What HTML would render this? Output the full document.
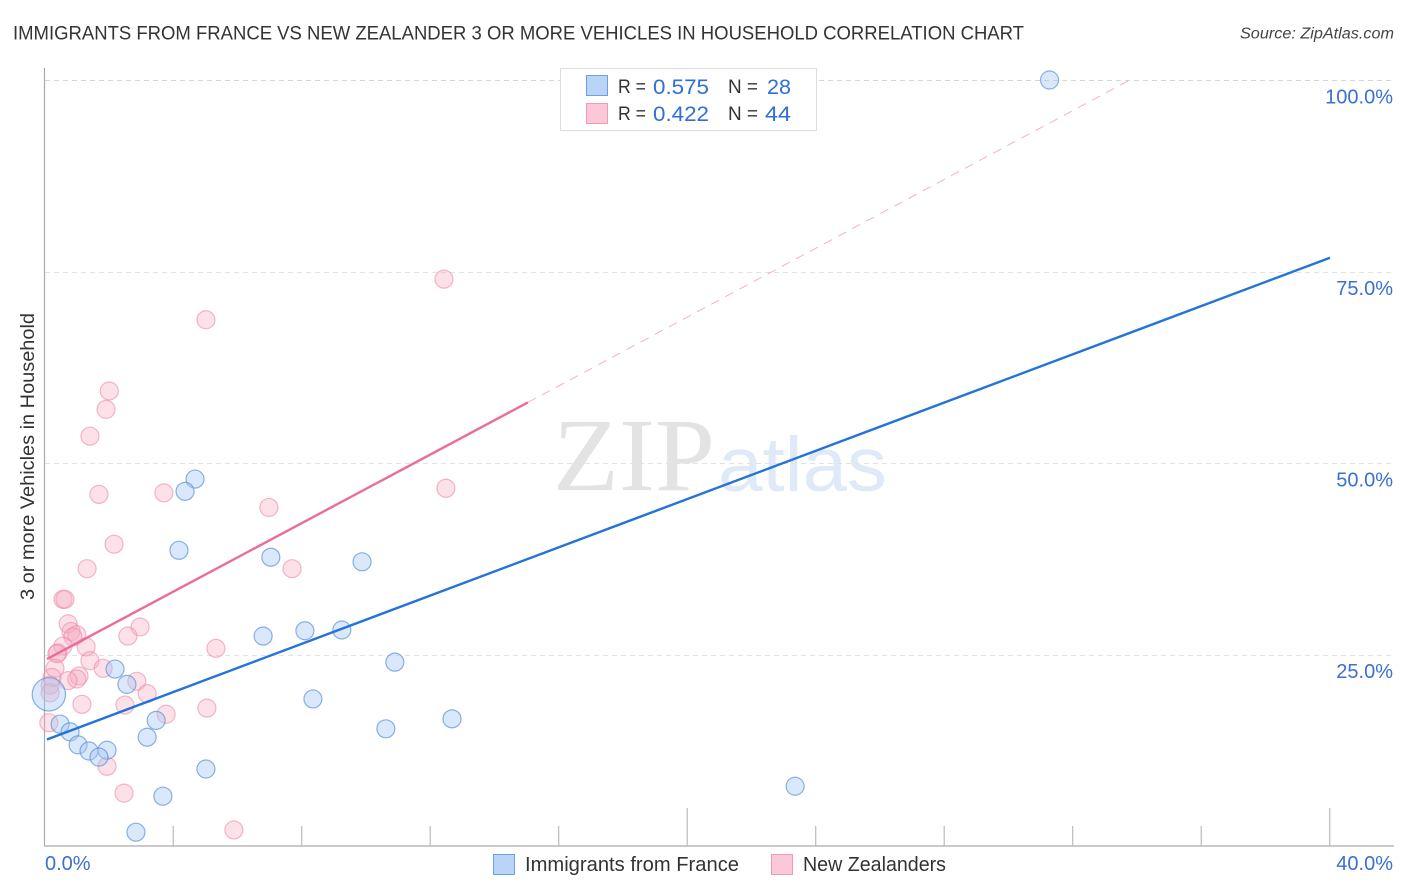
<!DOCTYPE html>
<html lang="en">
<head>
<meta charset="utf-8">
<title>Immigrants from France vs New Zealander 3 or more Vehicles in Household Correlation Chart</title>
<style>
html,body{margin:0;padding:0;background:#fff;}
body{width:1406px;height:892px;overflow:hidden;}
svg{display:block;}
text{font-family:"Liberation Sans",sans-serif;}
</style>
</head>
<body>
<svg id="chart" xmlns="http://www.w3.org/2000/svg" width="1406" height="892" viewBox="0 0 1406 892">
  <text x="13" y="39.5" font-size="19.5" fill="#333" textLength="1011" lengthAdjust="spacingAndGlyphs">IMMIGRANTS FROM FRANCE VS NEW ZEALANDER 3 OR MORE VEHICLES IN HOUSEHOLD CORRELATION CHART</text>
  <text x="1394" y="38.5" font-size="15.5" font-style="italic" fill="#444" text-anchor="end" textLength="154" lengthAdjust="spacingAndGlyphs">Source: ZipAtlas.com</text>
  <g>
    <text x="553" y="490" font-size="104" fill="#e3e3e3" textLength="162" lengthAdjust="spacingAndGlyphs" style="font-family:'Liberation Serif',serif">ZIP</text>
    <text x="718" y="491" font-size="77" fill="#dfe9f8" textLength="169" lengthAdjust="spacingAndGlyphs">atlas</text>
  </g>
  <g id="grid"></g>
  <g id="axes"></g>
  <g id="pts-pink"></g>
  <g id="pts-blue"></g>
  <g id="lines"></g>
  <text transform="translate(34,600) rotate(-90)" font-size="19.5" fill="#333" textLength="287" lengthAdjust="spacingAndGlyphs">3 or more Vehicles in Household</text>
  <g id="labels"></g>

  <g>
    <rect x="560.5" y="68.5" width="256" height="62" fill="#fff" stroke="#ddd"/>
    <rect x="586.5" y="75.5" width="21" height="20" fill="#b9d4f7" stroke="#6f9fe0"/>
    <rect x="586.5" y="103.5" width="21" height="20" fill="#fbc8d8" stroke="#f09ab6"/>
    <text x="618" y="93" font-size="19" fill="#333" textLength="28" lengthAdjust="spacingAndGlyphs">R =</text>
    <text x="653" y="94" font-size="21.5" fill="#2f6fd6" textLength="56" lengthAdjust="spacingAndGlyphs">0.575</text>
    <text x="728" y="93" font-size="19" fill="#333" textLength="30" lengthAdjust="spacingAndGlyphs">N =</text>
    <text x="767" y="94" font-size="21.5" fill="#2f6fd6" textLength="24" lengthAdjust="spacingAndGlyphs">28</text>
    <text x="618" y="120" font-size="19" fill="#333" textLength="28" lengthAdjust="spacingAndGlyphs">R =</text>
    <text x="653" y="121" font-size="21.5" fill="#2f6fd6" textLength="56" lengthAdjust="spacingAndGlyphs">0.422</text>
    <text x="728" y="120" font-size="19" fill="#333" textLength="30" lengthAdjust="spacingAndGlyphs">N =</text>
    <text x="765" y="121" font-size="21.5" fill="#2f6fd6" textLength="26" lengthAdjust="spacingAndGlyphs">44</text>
  </g>

  <g>
    <rect x="493.5" y="854.5" width="21" height="20" fill="#b9d4f7" stroke="#6f9fe0"/>
    <text x="525" y="871" font-size="20" fill="#333" textLength="214" lengthAdjust="spacingAndGlyphs">Immigrants from France</text>
    <rect x="771.5" y="854.5" width="21" height="20" fill="#fbc8d8" stroke="#f09ab6"/>
    <text x="803" y="871" font-size="20" fill="#333" textLength="143" lengthAdjust="spacingAndGlyphs">New Zealanders</text>
  </g>
</svg>
<script>
// Values in percent
const blueX = [31.27,4.67,4.36,4.17,7.03,9.87,6.79,8.09,9.24,10.89,2.18,2.55,8.34,0.47,0.78,3.46,10.61,12.67,3.18,1.03,1.37,1.93,1.68,5.01,3.67,23.35,2.83,0.12];
const blueY = [100,47.9,46.3,38.6,37.7,37.1,27.4,28.1,28.2,24.0,23.1,21.1,19.2,15.9,14.9,16.4,15.3,16.6,14.2,13.2,12.4,12.5,11.6,10.05,6.5,7.8,1.8,19.8];
const blueSizes = [1,1,1,1,1,1,1,1,1,1,1,1,1,1,1,1,1,1,1,1,1,1,1,1,1,1,1,1.85];
const pinkX = [12.42,5.01,2.0,1.9,1.4,1.68,3.7,12.48,6.97,2.15,1.31,7.69,0.56,0.62,0.72,0.81,0.99,0.87,2.96,2.58,1.28,5.32,0.56,0.4,0.37,1.4,0.31,1.81,1.06,0.99,0.72,0.22,0.16,0.16,2.86,3.18,2.49,1.15,5.04,3.77,0.12,1.93,2.46,5.88];
const pinkY = [74.0,68.7,59.4,57.0,53.5,45.9,46.1,46.7,44.2,39.4,36.2,36.2,32.2,32.2,29.0,28.0,27.6,27.3,28.6,27.4,26.0,25.8,26.1,25.2,25.1,24.2,23.2,23.2,22.2,21.8,21.6,22.0,21.0,20.0,21.5,19.9,18.4,18.5,18.0,17.2,16.1,10.4,6.9,2.1];
const xTickValues = [4,8,12,16,20,24,28,32,36,40];
const xMajorTicks = [20,40];
const yGridValues = [25,50,75,100];
const yTickLabels = ["25.0%","50.0%","75.0%","100.0%"];
const xEndLabels = ["0.0%","40.0%"];
const xEndValues = [0,40];
const blueTrendX = [0.06,40];
const blueTrendY = [13.9,76.8];
const pinkTrendX = [0.06,15.03];
const pinkTrendY = [24.4,57.9];
const pinkDashX = [15.03,33.77];
const pinkDashY = [57.9,100];

// Axis functions
const xScale = v => 45 + (v / 40) * 1285;
const yScale = v => 846 - (v / 100) * 766;
const NS = 'http://www.w3.org/2000/svg';
function make(tag, attrs, parent) {
  const el = document.createElementNS(NS, tag);
  for (const k in attrs) el.setAttribute(k, attrs[k]);
  parent.appendChild(el);
  return el;
}
const grid = document.getElementById('grid');
const axes = document.getElementById('axes');
const labels = document.getElementById('labels');
const ptsBlue = document.getElementById('pts-blue');
const ptsPink = document.getElementById('pts-pink');
const lines = document.getElementById('lines');

yGridValues.forEach((v, i) => {
  const y = Math.round(yScale(v)) + 0.5;
  const g = make('line', {x1: 45, x2: 1394, y1: y, y2: y, stroke: v === 100 ? '#d6d6d6' : '#e2e2e2', 'stroke-width': 1, 'stroke-dasharray': '5 4'}, grid);
  
  
  const t = make('text', {x: 1393, y: yScale(v) + 23.5, 'font-size': 20, fill: '#3a70d2', 'text-anchor': 'end'}, labels);
  t.textContent = yTickLabels[i];
  
  
});

const yAxis = make('line', {x1: 44.5, x2: 44.5, y1: 68, y2: 846, stroke: '#aaa', 'stroke-width': 1.2}, axes);


const xAxis = make('line', {x1: 44, x2: 1394, y1: 846, y2: 846, stroke: '#aaa', 'stroke-width': 1.2}, axes);



xTickValues.forEach(v => {
  const x = xScale(v) - 0.3;
  const top = xMajorTicks.includes(v) ? 808 : 826;
  const tick = make('line', {x1: x, x2: x, y1: top, y2: 846, stroke: '#bbb', 'stroke-width': 1.2}, axes);
  
  
});

xEndValues.forEach((v, i) => {
  const t = make('text', i === 0
    ? {x: xScale(v), y: 870, 'font-size': 20, fill: '#3a70d2'}
    : {x: 1393, y: 870, 'font-size': 20, fill: '#3a70d2', 'text-anchor': 'end'}, labels);
  t.textContent = xEndLabels[i];
  
  
});

pinkX.forEach((v, i) => {
  const c = make('circle', {cx: xScale(v), cy: yScale(pinkY[i]), r: 9, fill: '#f6a9c0', 'fill-opacity': 0.35, stroke: '#ea8aa9', 'stroke-opacity': 0.6, 'stroke-width': 1.2}, ptsPink);
  
  
});
blueX.forEach((v, i) => {
  const c = make('circle', {cx: xScale(v), cy: yScale(blueY[i]), r: 9 * blueSizes[i], fill: '#a5c8f3', 'fill-opacity': 0.42, stroke: '#5d90da', 'stroke-opacity': 0.7, 'stroke-width': 1.2}, ptsBlue);
  
  
});

const dash = make('line', {x1: xScale(pinkDashX[0]), y1: yScale(pinkDashY[0]), x2: xScale(pinkDashX[1]), y2: yScale(pinkDashY[1]), stroke: '#ee6f98', 'stroke-opacity': 0.55, 'stroke-width': 1, 'stroke-dasharray': '9 7'}, lines);


const pinkLine = make('line', {x1: xScale(pinkTrendX[0]), y1: yScale(pinkTrendY[0]), x2: xScale(pinkTrendX[1]), y2: yScale(pinkTrendY[1]), stroke: '#ec6c98', 'stroke-width': 2.4}, lines);


const blueLine = make('line', {x1: xScale(blueTrendX[0]), y1: yScale(blueTrendY[0]), x2: xScale(blueTrendX[1]), y2: yScale(blueTrendY[1]), stroke: '#2473d8', 'stroke-width': 2.4}, lines);


</script>
</body>
</html>
